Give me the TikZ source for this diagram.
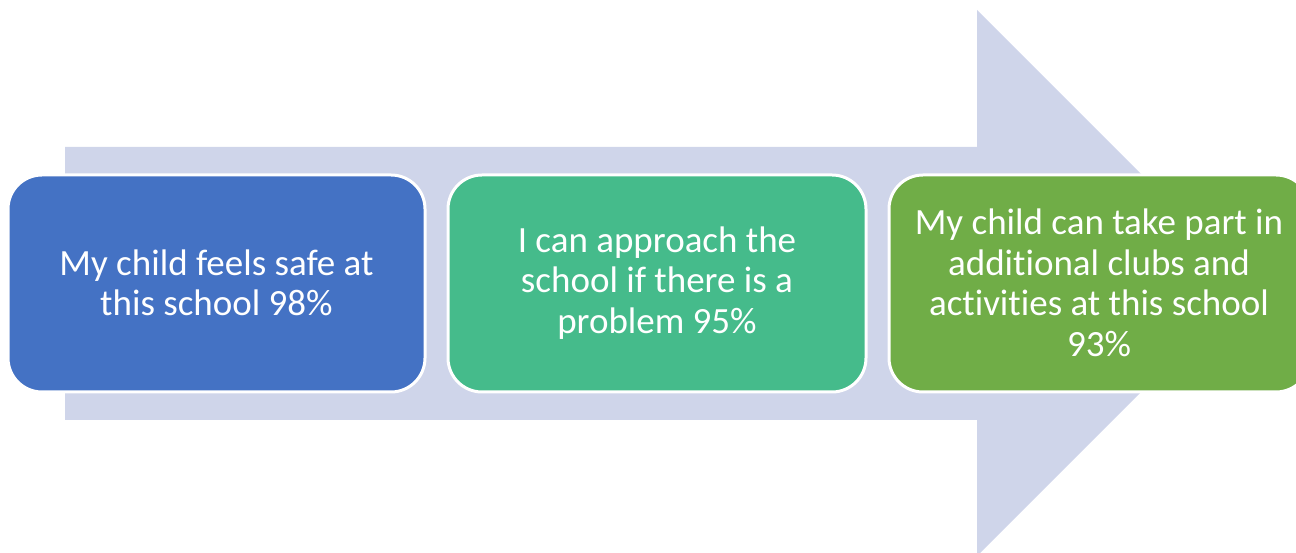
\documentclass[tikz,border=0pt]{standalone}
\usepackage{fontspec}
\setmainfont[Ligatures=NoCommon]{Carlito}
\definecolor{arrowc}{HTML}{CFD5EA}
\definecolor{boxa}{HTML}{4472C4}
\definecolor{boxb}{HTML}{45BB8B}
\definecolor{boxc}{HTML}{70AD47}
\tikzset{
  card/.style={draw=white, line width=3pt, rounded corners=34pt, text=white,
    align=center, font=\fontsize{37}{40.5}\selectfont, inner sep=0pt}
}
\begin{document}
\begin{tikzpicture}[x=1pt,y=1pt]
\useasboundingbox (0,0) rectangle (1296,553);
% big arrow
\fill[arrowc] (65,406) -- (977,406) -- (977,543) -- (1250,270) -- (977,-3) -- (977,133) -- (65,133) -- cycle;
% boxes
\filldraw[card, fill=boxa] (8,161) rectangle (425,378);
\filldraw[card, fill=boxb] (448,161) rectangle (866,378);
\filldraw[card, fill=boxc] (889,161) rectangle (1310,378);
\node[card, draw=none] (a) at (216.5,270) {My child feels safe at\\this school 98\%};
\node[card, draw=none] (b) at (657,270) {I can approach the\\school if there is a\\problem 95\%};
\node[card, draw=none] (c) at (1099,270) {My child can take part in\\additional clubs and\\activities at this school\\93\%};
\end{tikzpicture}
\end{document}
